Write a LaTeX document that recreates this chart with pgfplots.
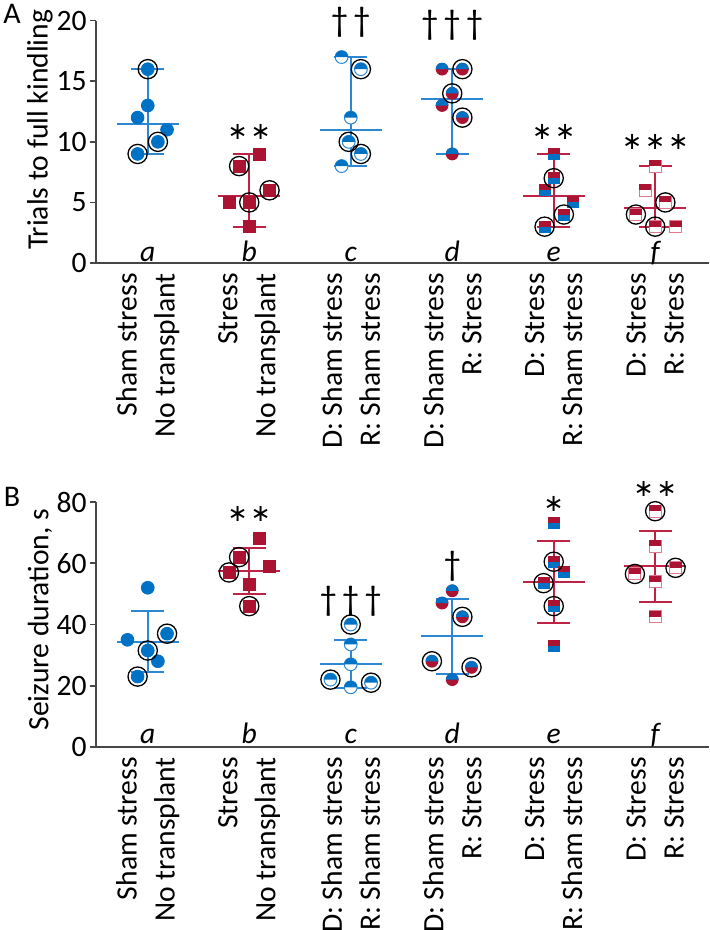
\documentclass[border=0pt]{standalone}
\usepackage{pgfplots}
\pgfplotsset{compat=1.18}
\usepackage{fontspec}
\setmainfont{Carlito}
\newfontfamily\djv{DejaVu Sans}

\definecolor{cblue}{RGB}{0,114,198}
\definecolor{cred}{RGB}{170,20,50}
\definecolor{lblue}{RGB}{45,135,210}
\definecolor{lred}{RGB}{190,35,70}
\definecolor{pred}{RGB}{225,120,140}
\definecolor{axgray}{RGB}{70,70,70}

% circle: top blue, bottom white (blue outline)
\pgfdeclareplotmark{cBW}{%
  \pgfsetlinewidth{0.5pt}%
  \pgfpathcircle{\pgfpointorigin}{\pgfplotmarksize}%
  \pgfsetfillcolor{white}\pgfsetstrokecolor{lblue}%
  \pgfusepathqfillstroke
  \pgfpathmoveto{\pgfqpoint{\pgfplotmarksize}{0pt}}%
  \pgfpatharc{0}{180}{\pgfplotmarksize}%
  \pgfpathclose
  \pgfsetfillcolor{cblue}%
  \pgfusepathqfill
}
% circle: top blue, bottom red
\pgfdeclareplotmark{cBR}{%
  \pgfpathcircle{\pgfpointorigin}{\pgfplotmarksize}%
  \pgfsetfillcolor{cred}%
  \pgfusepathqfill
  \pgfpathmoveto{\pgfqpoint{\pgfplotmarksize}{0pt}}%
  \pgfpatharc{0}{180}{\pgfplotmarksize}%
  \pgfpathclose
  \pgfsetfillcolor{cblue}%
  \pgfusepathqfill
}
% square: top red, bottom blue
\pgfdeclareplotmark{sRB}{%
  \pgfpathrectanglecorners{\pgfqpoint{-\pgfplotmarksize}{-\pgfplotmarksize}}{\pgfqpoint{\pgfplotmarksize}{0pt}}%
  \pgfsetfillcolor{cblue}%
  \pgfusepathqfill
  \pgfpathrectanglecorners{\pgfqpoint{-\pgfplotmarksize}{0pt}}{\pgfqpoint{\pgfplotmarksize}{\pgfplotmarksize}}%
  \pgfsetfillcolor{cred}%
  \pgfusepathqfill
}
% square: top red, bottom white (red outline)
\pgfdeclareplotmark{sRW}{%
  \pgfsetlinewidth{0.5pt}%
  \pgfpathrectanglecorners{\pgfqpoint{-\pgfplotmarksize}{-\pgfplotmarksize}}{\pgfqpoint{\pgfplotmarksize}{\pgfplotmarksize}}%
  \pgfsetfillcolor{white}\pgfsetstrokecolor{pred}%
  \pgfusepathqfillstroke
  \pgfpathrectanglecorners{\pgfqpoint{-\pgfplotmarksize}{0pt}}{\pgfqpoint{\pgfplotmarksize}{\pgfplotmarksize}}%
  \pgfsetfillcolor{cred}%
  \pgfusepathqfill
}

\newcommand{\sA}{{\djv\fontsize{12}{12}\selectfont ∗}}
\newcommand{\sB}{{\djv\fontsize{12}{12}\selectfont ∗\kern1.5pt∗}}
\newcommand{\sC}{{\djv\fontsize{12}{12}\selectfont ∗\kern1.5pt∗\kern1.5pt∗}}
\newcommand{\dA}{{\fontsize{17.5}{18}\selectfont †}}
\newcommand{\dB}{{\fontsize{17.5}{18}\selectfont †\kern2.5pt†}}
\newcommand{\dC}{{\fontsize{17.5}{18}\selectfont †\kern2.5pt†\kern2.5pt†}}

\pgfplotsset{
  panel/.style={
    width=306.5pt, scale only axis,
    xmin=-0.51, xmax=5.53,
    axis lines=left,
    axis line style={-, draw=axgray, line width=1pt},
    xtick={0,1,2,3,4,5},
    major x tick style={draw=none},
    xticklabels={{Sham stress\\No transplant},{Stress\\No transplant},{D: Sham stress\\R: Sham stress},{D: Sham stress\\R: Stress},{D: Stress\\R: Sham stress},{D: Stress\\R: Stress}},
    xticklabel style={rotate=90, anchor=east, align=right, font=\fontsize{14.8}{19}\selectfont, inner sep=2pt},
    tick align=outside,
    major tick length=3pt,
    major y tick style={draw=axgray, line width=0.8pt},
    yticklabel style={font=\fontsize{14.8}{18}\selectfont, inner sep=1.5pt},
    /pgf/number format/assume math mode=true,
    ylabel style={font=\fontsize{14.8}{18}\selectfont, anchor=center},
    clip=false,
  },
  bars/.style={only marks, mark=-, mark size=15.5pt, color=#1, line width=1pt,
    mark options={line width=1pt, draw=#1},
    error bars/.cd, y dir=both, y explicit, error mark=|,
    error bar style={line width=1pt, draw=#1},
    error mark options={mark size=8.25pt, line width=1pt, draw=#1}},
  ring/.style={only marks, mark=o, mark size=4.8pt, mark options={draw=black, line width=0.65pt}},
  annot/.style={draw=none, mark=none, nodes near coords, point meta=explicit symbolic,
    every node near coord/.append style={anchor=center, font=\fontsize{15}{18}\selectfont, black}},
  letters/.style={draw=none, mark=none, nodes near coords, point meta=explicit symbolic,
    every node near coord/.append style={anchor=base, font=\fontsize{14.8}{18}\itshape, black}},
}

\begin{document}
\begin{tikzpicture}
\path[use as bounding box] (-48pt,-333.5pt) rectangle (306.5pt,131.5pt);

% ================= Panel A =================
\begin{axis}[panel, at={(0pt,0pt)}, anchor=south west, height=121.15pt,
  ymin=0, ymax=20, ytick={0,5,10,15,20},
  ylabel={Trials to full kindling},
  ylabel style={at={(axis description cs:-0.0914,0.55)}}]
\addplot[bars=lblue] table[x=x, y=m, y error plus=p, y error minus=n]{
x m p n
0 11.5 4.5 2.5
2 11 6 3
3 13.5 2.5 4.5
};
\addplot[bars=lred] table[x=x, y=m, y error plus=p, y error minus=n]{
x m p n
1 5.5 3.5 2.5
4 5.5 3.5 2.5
5 4.5 3.5 1.5
};
\addplot[only marks, mark=*, mark size=3.2pt, mark options={draw=cblue, fill=cblue}] table{
x y
0 16
0 13
-0.1 12
0.19 11
0.1 10
-0.1 9
};
\addplot[only marks, mark=square*, mark size=3pt, mark options={draw=cred, fill=cred}] table{
x y
1.1 9
0.9 8
1.2 6
0.8 5
1.0 5
1.0 3
};
\addplot[only marks, mark=cBW, mark size=3.2pt] table{
x y
1.91 17
2.1 16
2.0 12
1.98 10
2.1 9
1.91 8
};
\addplot[only marks, mark=cBR, mark size=3.2pt] table{
x y
2.9 16
3.1 16
3.0 14
2.9 13
3.1 12
3.0 9
};
\addplot[only marks, mark=sRB, mark size=3pt] table{
x y
4.0 9
4.0 7
3.91 6
4.19 5
4.1 4
3.91 3
};
\addplot[only marks, mark=sRW, mark size=3pt] table{
x y
5.0 8
4.9 6
5.1 5
4.81 4
5.0 3
5.2 3
};
\addplot[ring] table{
x y
0 16
0.1 10
-0.1 9
0.9 8
1.2 6
1.0 5
2.1 16
1.98 10
2.1 9
3.1 16
3.0 14
3.1 12
4.0 7
4.1 4
3.91 3
5.1 5
4.81 4
5.0 3
};
\addplot[annot] table[meta=t]{
x y t
1 10.8 \sB
2 19.9 \dB
3 19.6 \dC
4 10.8 \sB
5 10.0 \sC
};
\addplot[letters] table[meta=t]{
x y t
0 0.15 a
1 0.15 b
2 0.15 c
3 0.15 d
4 0.15 e
5 0.15 f
};
\node[font=\fontsize{15}{18}\selectfont] at (rel axis cs:-0.137,1.028) {A};
\end{axis}

% ================= Panel B =================
\begin{axis}[panel, at={(0pt,-242pt)}, anchor=south west, height=122.5pt,
  ymin=0, ymax=80, ytick={0,20,40,60,80},
  ylabel={Seizure duration, s},
  ylabel style={at={(axis description cs:-0.0914,0.52)}}]
\addplot[bars=lblue] table[x=x, y=m, y error plus=p, y error minus=n]{
x m p n
0 34.4 10 10
2 27.2 7.9 7.9
3 36.1 12.2 12.2
};
\addplot[bars=lred] table[x=x, y=m, y error plus=p, y error minus=n]{
x m p n
1 57.5 7.6 7.6
4 53.8 13.45 13.45
5 59.0 11.5 11.5
};
\addplot[only marks, mark=*, mark size=3.2pt, mark options={draw=cblue, fill=cblue}] table{
x y
0 52
0.19 37
-0.2 35
0 31.5
0.1 28
-0.1 23
};
\addplot[only marks, mark=square*, mark size=3pt, mark options={draw=cred, fill=cred}] table{
x y
1.1 68
0.9 62
1.2 59
0.8 57
1.0 53
1.0 46
};
\addplot[only marks, mark=cBW, mark size=3.2pt] table{
x y
2 40
2 33.5
2 27
1.8 22
2.2 21
2 19.5
};
\addplot[only marks, mark=cBR, mark size=3.2pt] table{
x y
3 51
2.9 47
3.1 42.5
2.8 28
3.19 26
3 22
};
\addplot[only marks, mark=sRB, mark size=3pt] table{
x y
4 73
4 60.5
4.1 57
3.9 53.5
4 46
4 33
};
\addplot[only marks, mark=sRW, mark size=3pt] table{
x y
5 77
5 65.5
5.2 58.5
4.8 56.5
5 54
5 42.5
};
\addplot[ring] table{
x y
0.19 37
0 31.5
-0.1 23
0.9 62
0.8 57
1.0 46
2 40
1.8 22
2.2 21
3.1 42.5
2.8 28
3.19 26
4 60.5
3.9 53.5
4 46
5 77
5.2 58.5
4.8 56.5
};
\addplot[annot] table[meta=t]{
x y t
1 76 \sB
2 47.5 \dC
3 59 \dA
4 79.3 \sA
5 84.3 \sB
};
\addplot[letters] table[meta=t]{
x y t
0 1.2 a
1 1.2 b
2 1.2 c
3 1.2 d
4 1.2 e
5 1.2 f
};
\node[font=\fontsize{15}{18}\selectfont] at (rel axis cs:-0.137,1.02) {B};
\end{axis}
\end{tikzpicture}
\end{document}
